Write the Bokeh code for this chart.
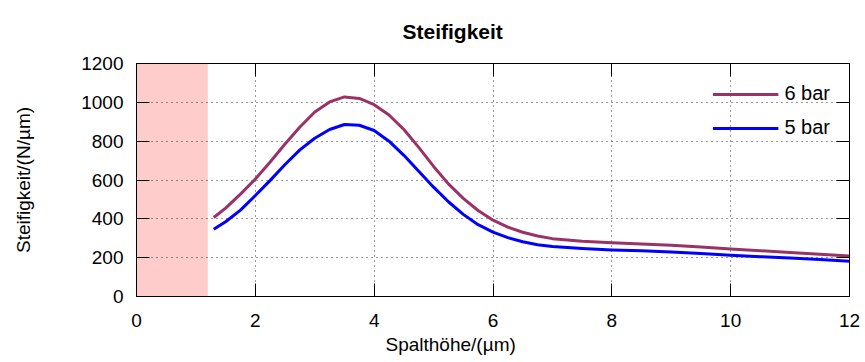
from bokeh.plotting import figure
from bokeh.models import LinearAxis, FixedTicker, Range1d, Legend, LegendItem, Title
from bokeh.embed import file_html
from bokeh.resources import INLINE

# ---- data ----
gap_um = [1.3, 1.5, 1.75, 2.0, 2.25, 2.5, 2.75, 3.0, 3.25, 3.5, 3.75, 4.0, 4.25, 4.5, 4.75,
          5.0, 5.25, 5.5, 5.75, 6.0, 6.25, 6.5, 6.75, 7.0, 7.5, 8.0, 8.5, 9.0, 9.5, 10.0,
          10.5, 11.0, 11.5, 12.0]
stiff_6bar = [407, 455, 527, 605, 693, 785, 873, 950, 1002, 1028, 1020, 988, 935, 860, 768,
              670, 580, 505, 443, 393, 357, 331, 312, 298, 284, 277, 271, 264, 255, 245,
              236, 227, 217, 208]
stiff_5bar = [346, 385, 445, 520, 598, 680, 755, 815, 860, 886, 882, 855, 800, 727, 645,
              563, 488, 423, 370, 332, 303, 282, 267, 257, 247, 240, 235, 229, 221, 213,
              205, 198, 190, 182]
series_names = ["6 bar", "5 bar"]
x_ticks = [0, 2, 4, 6, 8, 10, 12]
y_ticks = [0, 200, 400, 600, 800, 1000, 1200]
shade_x = [0, 1.2]

FONT = "Liberation Sans"
C6 = "#993366"
C5 = "#0000ff"

p = figure(width=865, height=362, output_backend="svg", toolbar_location=None,
           x_range=Range1d(x_ticks[0], x_ticks[-1]), y_range=Range1d(y_ticks[0], y_ticks[-1]),
           min_border_left=136, min_border_right=16, min_border_top=63, min_border_bottom=66)

p.title.text = "Steifigkeit"
p.title.align = "left"
p.title.offset = 266
p.title.text_font = FONT
p.title.text_font_size = "21px"
p.title.text_font_style = "bold"
p.title.text_color = "black"
p.title.vertical_align = "top"
p.title.standoff = 38

p.background_fill_color = "white"
p.border_fill_color = "white"
p.outline_line_color = "black"
p.outline_line_width = 1

# shaded region (drawn under the grid)
p.quad(left=shade_x[0], right=shade_x[1], bottom=y_ticks[0], top=y_ticks[-1],
       fill_color="#ffcccc", line_color=None, level="image")

r6 = p.line(gap_um, stiff_6bar, line_color=C6, line_width=3, line_join="round")
r5 = p.line(gap_um, stiff_5bar, line_color=C5, line_width=3, line_join="round")


def style_axis(ax, ticks, labels=True):
    ax.ticker = FixedTicker(ticks=ticks)
    ax.major_tick_in = 13
    ax.major_tick_out = 0
    ax.major_tick_line_width = 1
    ax.minor_tick_line_color = None
    ax.major_tick_line_color = "black"
    ax.axis_line_color = "black"
    ax.major_label_text_font = FONT
    ax.major_label_text_color = "black"
    if labels:
        ax.major_label_text_font_size = "19px"
    else:
        ax.major_label_text_font_size = "1px"
        ax.major_label_text_color = None
        ax.major_label_standoff = 0


style_axis(p.xaxis[0], x_ticks)
style_axis(p.yaxis[0], y_ticks)
p.xaxis[0].major_label_standoff = 17
p.yaxis[0].major_label_standoff = 13
p.yaxis[0].major_label_text_baseline = "top"

p.yaxis[0].axis_label = "Steifigkeit/(N/µm)"
p.yaxis[0].axis_label_text_font = FONT
p.yaxis[0].axis_label_text_font_size = "19px"
p.yaxis[0].axis_label_text_font_style = "normal"
p.yaxis[0].axis_label_text_color = "black"
p.yaxis[0].axis_label_standoff = 44

ax_r = LinearAxis()
style_axis(ax_r, y_ticks, labels=False)
p.add_layout(ax_r, "right")
ax_t = LinearAxis()
style_axis(ax_t, x_ticks, labels=False)
p.add_layout(ax_t, "above")

for g in (p.xgrid[0], p.ygrid[0]):
    g.grid_line_color = "#222222"
    g.grid_line_dash = "1 4"
    g.grid_line_width = 1
    g.grid_line_alpha = 0.9

xlab = Title(text="Spalthöhe/(µm)", align="left", offset=249, standoff=5,
             text_font=FONT, text_font_size="19px", text_font_style="normal",
             text_color="black")
p.add_layout(xlab, "below")

legend = Legend(items=[LegendItem(label=series_names[0], renderers=[r6]),
                       LegendItem(label=series_names[1], renderers=[r5])],
                location="top_right", margin=19, padding=0, spacing=11,
                glyph_width=66, label_standoff=6,
                label_text_font=FONT, label_text_font_size="20px",
                label_text_color="black",
                background_fill_alpha=0, border_line_color=None)
p.add_layout(legend)

open("out.html", "w").write(file_html(p, INLINE))
